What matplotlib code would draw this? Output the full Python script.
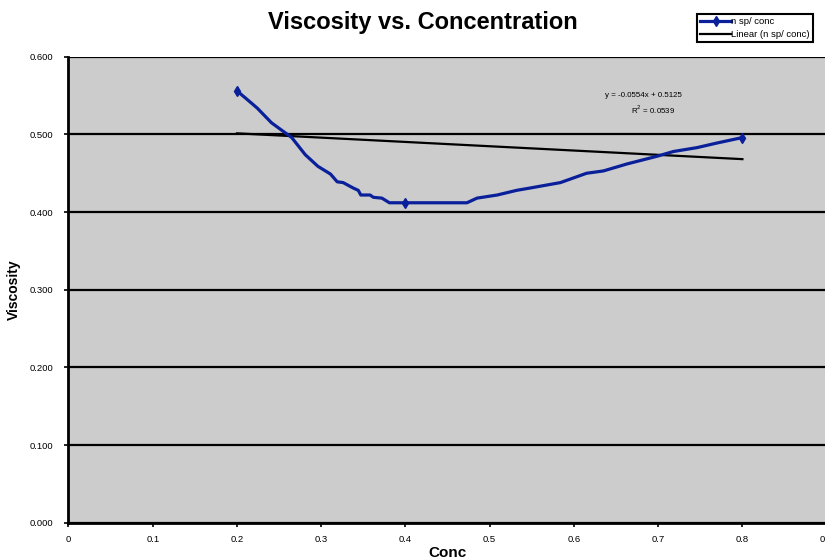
import numpy as np
import matplotlib.pyplot as plt
import matplotlib as mpl

mpl.rcParams['font.family'] = ['Liberation Sans', 'DejaVu Sans']

# data
conc = [0.200, 0.210, 0.224, 0.241, 0.265, 0.281, 0.296, 0.311, 0.319, 0.326,
        0.338, 0.344, 0.347, 0.358, 0.362, 0.372, 0.381, 0.400, 0.473, 0.485,
        0.509, 0.532, 0.548, 0.584, 0.615, 0.635, 0.663, 0.699, 0.718, 0.746,
        0.770, 0.800]
visc = [0.556, 0.547, 0.534, 0.515, 0.496, 0.474, 0.459, 0.449, 0.439, 0.438,
        0.431, 0.428, 0.422, 0.422, 0.419, 0.418, 0.412, 0.412, 0.412, 0.418,
        0.422, 0.428, 0.431, 0.438, 0.450, 0.453, 0.462, 0.472, 0.478, 0.483,
        0.489, 0.496]
marked = [0, 17, 31]          # points that show a marker

# linear trend (from the chart label)
slope = -0.0554
intercept = 0.5125
r2 = 0.0539
trend_x = np.array([0.2, 0.8])

x_ticks = [0, 0.1, 0.2, 0.3, 0.4, 0.5, 0.6, 0.7, 0.8, 0.9]
x_labels = ['0', '0.1', '0.2', '0.3', '0.4', '0.5', '0.6', '0.7', '0.8', '0.9']
y_ticks = [0.0, 0.1, 0.2, 0.3, 0.4, 0.5, 0.6]

fig = plt.figure(figsize=(8.25, 5.6), dpi=100)
ax = fig.add_axes([0.083, 0.0666, 0.919, 0.832])
ax.set_facecolor('#cccccc')

blue = '#0a1f9a'
ax.plot(conc, visc, color=blue, lw=2.3, zorder=3)
ax.plot([conc[i] for i in marked], [visc[i] for i in marked], 'd',
        color=blue, markersize=5, zorder=4)
ax.plot(trend_x, slope * trend_x + intercept, color='black', lw=1.6, zorder=2)

# legend handles
ax.plot([], [], color=blue, lw=2.3, marker='d', markersize=5, label='n sp/ conc')
ax.plot([], [], color='black', lw=1.6, label='Linear (n sp/ conc)')

ax.text(0.682, 0.5505, 'y = -0.0554x + 0.5125', fontsize=5.7, ha='center', va='center')
ax.text(0.694, 0.532, 'R$^2$ = %.4f' % r2, fontsize=5.7, ha='center', va='center')

ax.set_xlim(0, 0.9)
ax.set_ylim(0, 0.6)
ax.set_xticks(x_ticks)
ax.set_xticklabels(x_labels)
ax.set_yticks(y_ticks)
ax.set_yticklabels(['%.3f' % v for v in y_ticks])
ax.tick_params(labelsize=6.8, direction='out', length=3, width=1.2)
ax.tick_params(axis='y', pad=8)
ax.tick_params(axis='x', pad=6)

ax.grid(axis='y', color='black', linewidth=1.6)
ax.set_axisbelow(True)
for s in ['top', 'right']:
    ax.spines[s].set_visible(False)
for s in ['left', 'bottom']:
    ax.spines[s].set_linewidth(2)

ax.set_xlabel('Conc', fontsize=11, fontweight='bold', labelpad=1)
ax.set_ylabel('Viscosity', fontsize=10, fontweight='bold', labelpad=6)

fig.text(0.513, 0.96, 'Viscosity vs. Concentration', fontsize=17,
         fontweight='bold', ha='center', va='center')

leg = fig.legend(loc='upper left', bbox_to_anchor=(0.845, 0.975), fontsize=6.8,
                 handlelength=3.3, fancybox=False, framealpha=1,
                 borderpad=0.3, labelspacing=0.45, handletextpad=0.0,
                 borderaxespad=0)
leg.get_frame().set_edgecolor('black')
leg.get_frame().set_linewidth(1.5)

plt.savefig('out.png', dpi=100)
